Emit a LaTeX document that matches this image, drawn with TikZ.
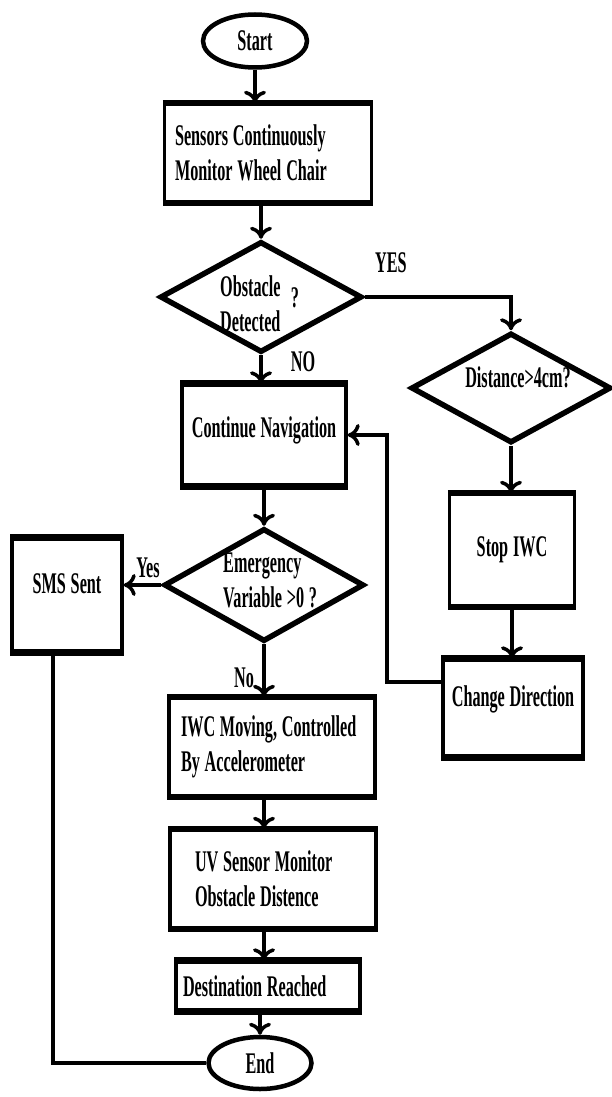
\documentclass[tikz,border=0pt]{standalone}
\usepackage{fontspec}
\setmainfont{Liberation Serif}[FakeStretch=0.54]
\usetikzlibrary{shapes.geometric,arrows.meta}
\newcommand\mynodefont{\fontsize{30}{35}\selectfont\bfseries}
\newcommand\mytextfix{\spaceskip=0.16em\relax\hyphenpenalty=10000\relax}
\begin{document}
\begin{tikzpicture}[x=1pt,y=-1pt,
  txt/.style={font=\mynodefont, execute at begin node=\mytextfix, inner sep=0pt},
  box/.style n args={2}{draw, line width=3.5pt, minimum width=#1, minimum height=#2, txt,
     append after command={(\tikzlastnode.north west) edge[line width=6pt] (\tikzlastnode.north east)
                           (\tikzlastnode.south west) edge[line width=6pt] (\tikzlastnode.south east)}},
  term/.style n args={2}{ellipse, draw, line width=4.5pt, minimum width=#1, minimum height=#2, txt},
  dia/.style n args={2}{diamond, draw, line width=5.5pt, minimum width=#1, minimum height=#2, inner sep=0pt},
  arr/.style={line width=3.5pt, -{To[length=12pt,width=22pt]}},
  conn/.style={line width=3.5pt}]
\useasboundingbox (0,0) rectangle (612,1097);
\fill[white] (0,0) rectangle (612,1097);

\node[term={104}{53}] (start) at (255,41) {Start};
\node[box={207}{97}, text width=186, align=left, inner xsep=10pt] (s1) at (268,153) {Sensors Continuously\\Monitor Wheel Chair};
\node[dia={202}{111}] (d1) at (261,297) {};
\node[txt, align=left, anchor=west] (d1t) at (220,304) {Obstacle\\Detected};
\node[txt] (q1) at (295,298) {?};
\node[txt] (yes1) at (391,263) {YES};
\node[txt] (no1) at (303,362) {NO};
\node[dia={200}{110}] (d2) at (511,388) {};
\node[txt] (d2t) at (518,377) {Distance>4cm?};
\node[box={164}{100}, text depth=16pt] (cn) at (264,435) {Continue Navigation};
\node[box={125}{111}] (stop) at (512,550) {Stop IWC};
\node[box={140}{96}, text depth=24pt] (cd) at (513,708) {Change Direction};
\node[dia={200}{113}] (d3) at (264,585) {};
\node[txt, align=left, anchor=west] (d3t) at (223,580) {Emergency\\Variable >0 ?};
\node[txt] (yes2) at (148,568) {Yes};
\node[box={110}{112}, text depth=22pt] (sms) at (67,595) {SMS Sent};
\node[txt] (no2) at (244,678) {No};
\node[box={206}{97}, text width=182, align=left, inner xsep=12pt] (iwc) at (272,747) {IWC Moving, Controlled\\By Accelerometer};
\node[box={206}{97}, text width=156, align=left, inner xsep=25pt] (uv) at (273,879) {UV Sensor Monitor\\Obstacle Distence};
\node[box={184}{48}, text width=170, align=left, inner xsep=7pt] (dr) at (268,986) {Destination Reached};
\node[term={103}{52}] (end) at (260,1063) {End};
\coordinate (fb) at (387,435);

\draw[arr] (start.south) -- (start.south |- s1.north);
\draw[arr] (s1.south -| d1.north) -- (d1.north);
\draw[arr] (d1.east) -| (d2.north);
\draw[arr] (d1.south) -- (d1.south |- cn.north);
\draw[arr] (d2.south) -- (d2.south |- stop.north);
\draw[arr] (stop.south) -- (stop.south |- cd.north);
\draw[arr] ([yshift=26pt]cd.west) -| (fb) -- (cn.east);
\draw[arr] (cn.south -| d3.north) -- (d3.north);
\draw[arr] (d3.west) -- (d3.west -| sms.east);
\draw[arr] (d3.south) -- (d3.south |- iwc.north);
\draw[arr] (iwc.south -| d3.south) -- (uv.north -| d3.south);
\draw[arr] (uv.south -| d3.south) -- (dr.north -| d3.south);
\draw[arr] (dr.south -| end.north) -- (end.north);
\draw[conn] ([xshift=-14pt]sms.south) |- (end.west);
\end{tikzpicture}
\end{document}
